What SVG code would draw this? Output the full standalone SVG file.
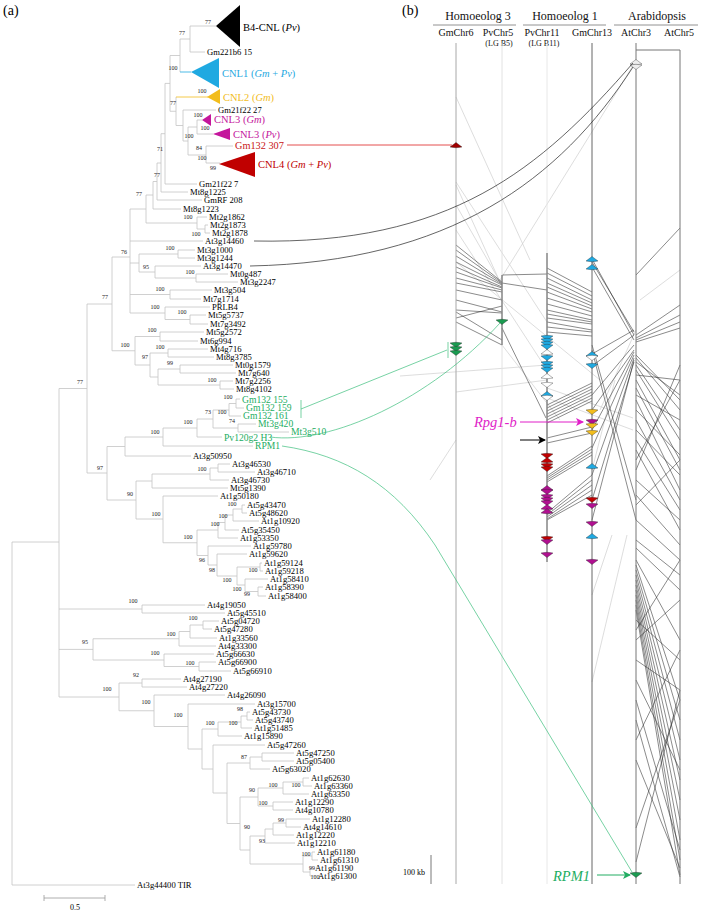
<svg xmlns="http://www.w3.org/2000/svg" xmlns:xlink="http://www.w3.org/1999/xlink" width="702" height="913" viewBox="0 0 702 913">
<style>
text{font-family:"Liberation Serif","Times New Roman",serif;}
.br{fill:none;stroke:#c4c4c4;stroke-width:0.8;}
.lf{font-size:8.6px;fill:#000;}
.bs{font-size:6px;fill:#222;text-anchor:middle;}
.cl{font-size:10.5px;}
.gl{font-size:9.6px;fill:#22ad62;}
.hd{font-size:12px;text-anchor:middle;fill:#111;}
.sh{font-size:10px;text-anchor:middle;fill:#111;}
.lg{font-size:8px;text-anchor:middle;fill:#111;}
.chr{stroke-width:1;fill:none;}
.syn{stroke:#2a2a2a;stroke-width:0.55;fill:none;}
.synl{stroke:#cfcfcf;stroke-width:0.7;fill:none;}
.g{stroke:#222;stroke-width:0.35;}
</style>
<defs>
<path id="gd" d="M-6,-2 Q0,-3.5 6,-2 L0,2.5 Z"/>
<path id="gu" d="M-6,2 Q0,3.5 6,2 L0,-2.5 Z"/>
<marker id="amag" markerWidth="8" markerHeight="8" refX="7" refY="4" orient="auto" markerUnits="userSpaceOnUse"><path d="M0,0 L8,4 L0,8 L2,4 Z" fill="#e01ec8"/></marker>
<marker id="ablk" markerWidth="8" markerHeight="8" refX="7" refY="4" orient="auto" markerUnits="userSpaceOnUse"><path d="M0,0 L8,4 L0,8 L2,4 Z" fill="#000"/></marker>
<marker id="agrn" markerWidth="8" markerHeight="8" refX="7" refY="4" orient="auto" markerUnits="userSpaceOnUse"><path d="M0,0 L8,4 L0,8 L2,4 Z" fill="#22ad62"/></marker>
</defs>
<rect width="702" height="913" fill="#fff"/>

<text x="3" y="15" style="font-size:14px">(a)</text>
<text x="402" y="15" style="font-size:14px">(b)</text>

<g id="tree-branches">
<path class="br" d="M190,26V52 M190,26H216 M190,52H205
M180,39V72 M180,39H190
M197,120V134 M197,120H202 M197,134H213
M206,146V163 M206,146H233 M206,163H220
M188,127V155 M188,127H197 M188,155H206
M183,110V141 M183,110H216 M183,141H188
M176,97V125.5 M176,125.5H183
M170,55.5V111.25 M170,55.5H180 M170,111.25H176
M165,83.4V184 M165,83.4H170 M165,184H197
M161,133.7V192 M161,133.7H165 M161,192H188
M157,163V200 M157,163H161 M157,200H202
M153,181.5V209 M153,181.5H157 M153,209H181
M205,225V233 M205,225H208 M205,233H210
M197,217V229 M197,217H207 M197,229H205
M146,195V223 M146,195H153 M146,223H197
M178,250V258 M178,250H195 M178,258H195
M196,274V282 M196,274H228 M196,282H238
M155,266V278 M155,266H201 M155,278H196
M139,254V272 M139,254H178 M139,272H155
M170,290V299 M170,290H212 M170,299H201
M190,315V324 M190,315H206 M190,324H208
M165,307V319.5 M165,307H210 M165,319.5H190
M130,209V313 M130,209H146 M130,241H203 M130,263H139 M130,294.5H170 M130,313H165
M160,332V341 M160,332H204 M160,341H198
M168,349V357 M168,349H208 M168,357H214
M180,365V373 M180,365H233 M180,373H236
M220,381V389 M220,381H233 M220,389H234
M158,369V385 M158,369H180 M158,385H220
M150,353V377 M150,353H168 M150,377H158
M135,336.5V365 M135,336.5H160 M135,365H150
M112,257V350.75 M112,257H130 M112,350.75H135
M236,399V408 M236,399H240 M236,408H244
M229,403.5V416 M229,403.5H236 M229,416H241
M238,424V432 M238,424H256 M238,432H289
M213,410V428 M213,410H229 M213,428H238
M197,419V437 M197,419H213 M197,437H222
M163,428V446 M163,428H197 M163,446H253
M125,437V456 M125,437H163 M125,456H191
M218,464V472 M218,464H230 M218,472H255
M210,468V480 M210,468H218 M210,480H229
M152,474V488 M152,474H210 M152,488H228
M242,505V513 M242,505H245 M242,513H247
M233,509V521 M233,509H242 M233,521H259
M225,515V530 M225,515H233 M225,530H239
M218,522.5V538 M218,522.5H225 M218,538H238
M260,563V571 M260,563H262 M260,571H263
M258,587V596 M258,587H263 M258,596H266
M245,579V591.5 M245,579H268 M245,591.5H258
M237,567V585 M237,567H260 M237,585H245
M217,554V576 M217,554H247 M217,576H237
M208,546V565 M208,546H251 M208,565H217
M197,530V555.5 M197,530H218 M197,555.5H208
M163,496V542.75 M163,496H218 M163,542.75H197
M136,481V519 M136,481H152 M136,519H163
M107,446.5V500 M107,446.5H125 M107,500H136
M87,304V473 M87,304H112 M87,473H107
M142,605V613 M142,605H205 M142,613H225
M203,621V629 M203,621H219 M203,629H212
M190,625V638 M190,625H203 M190,638H217
M179,631.5V646 M179,631.5H190 M179,646H216
M199,662V671 M199,662H216 M199,671H231
M164,654V666.5 M164,654H214 M164,666.5H199
M93,638.75V660 M93,638.75H179 M93,660H164
M142,679V687 M142,679H181 M142,687H187
M247,712V720 M247,712H250 M247,720H253
M241,716V728 M241,716H247 M241,728H252
M218,722V736 M218,722H241 M218,736H242
M262,753V761 M262,753H294 M262,761H294
M250,757V769 M250,757H262 M250,769H270
M303,778V786 M303,778H309 M303,786H312
M283,782V794 M283,782H303 M283,794H309
M273,802V810 M273,802H293 M273,810H293
M258,788V806 M258,788H283 M258,806H273
M286,819V827 M286,819H310 M286,827H301
M273,823V835 M273,823H286 M273,835H294
M265,829V843 M265,829H273 M265,843H295
M312,852V860 M312,852H315 M312,860H318
M310,868V876 M310,868H313 M310,876H316
M303,856V872 M303,856H312 M303,872H310
M250,836V864 M250,836H265 M250,864H303
M240,797V850 M240,797H258 M240,850H250
M227,763V823.5 M227,763H250 M227,823.5H240
M213,745V793 M213,745H265 M213,793H227
M202,729V769 M202,729H218 M202,769H213
M188,704V749 M188,704H255 M188,749H202
M154,695V726.5 M154,695H225 M154,726.5H188
M119,683V710.75 M119,683H142 M119,710.75H154
M59,388.5V697 M59,388.5H87 M59,609H142 M59,649.4H93 M59,697H119
M12,542V885 M12,542H59 M12,885H135"/>
<path d="M180,72H191" stroke="#1fa9e1" stroke-width="0.8" fill="none"/>
<path d="M176,97H208" stroke="#f2bd1d" stroke-width="0.8" fill="none"/>
</g>

<g id="clades">
<g id="clade-b4"><polygon points="216,26 240,5 240,47" fill="#000"/><text class="cl" x="243" y="31" fill="#000">B4-CNL (<tspan font-style="italic">Pv</tspan>)</text></g>
<g id="clade-cnl1"><polygon points="191,72 219,58 219,88" fill="#1fa9e1"/><text class="cl" x="222" y="77" fill="#1fa9e1">CNL1 (<tspan font-style="italic">Gm</tspan> + <tspan font-style="italic">Pv</tspan>)</text></g>
<g id="clade-cnl2"><polygon points="207,97 220,89 220,104" fill="#f2bd1d"/><text class="cl" x="223" y="101" fill="#f2bd1d">CNL2 (<tspan font-style="italic">Gm</tspan>)</text></g>
<g id="clade-cnl3gm"><polygon points="202,120 211,114 211,126" fill="#c4169c"/><text class="cl" x="214" y="123" fill="#c4169c">CNL3 (<tspan font-style="italic">Gm</tspan>)</text></g>
<g id="clade-cnl3pv"><polygon points="213,134 230,128 230,140" fill="#c4169c"/><text class="cl" x="233" y="138" fill="#c4169c">CNL3 (<tspan font-style="italic">Pv</tspan>)</text></g>
<g id="leaf-gm132-307"><text x="235" y="149" style="font-size:10.3px" fill="#c81414">Gm132 307</text></g>
<g id="clade-cnl4"><polygon points="219,164 255,152 255,177" fill="#c00000"/><text class="cl" x="258" y="168" fill="#c00000">CNL4 (<tspan font-style="italic">Gm</tspan> + <tspan font-style="italic">Pv</tspan>)</text></g>
</g>

<g id="leaf-labels" class="lf">
<text class="lf" x="207" y="55">Gm221b6 15</text>
<text class="lf" x="218" y="113">Gm21f22 27</text>
<text class="lf" x="199" y="187">Gm21f22 7</text>
<text class="lf" x="190" y="195">Mt8g1225</text>
<text class="lf" x="204" y="203">GmRF 208</text>
<text class="lf" x="183" y="212">Mt8g1223</text>
<text class="lf" x="209" y="220">Mt2g1862</text>
<text class="lf" x="210" y="228">Mt2g1873</text>
<text class="lf" x="212" y="236">Mt2g1878</text>
<text class="lf" x="205" y="244">At3g14460</text>
<text class="lf" x="197" y="253">Mt3g1000</text>
<text class="lf" x="197" y="261">Mt3g1244</text>
<text class="lf" x="203" y="269">At3g14470</text>
<text class="lf" x="230" y="277">Mt0g487</text>
<text class="lf" x="240" y="285">Mt3g2247</text>
<text class="lf" x="214" y="293">Mt3g504</text>
<text class="lf" x="203" y="302">Mt7g1714</text>
<text class="lf" x="212" y="310">PRLB4</text>
<text class="lf" x="208" y="318">Mt5g5737</text>
<text class="lf" x="210" y="327">Mt7g3492</text>
<text class="lf" x="206" y="335">Mt5g2572</text>
<text class="lf" x="200" y="344">Mt6g994</text>
<text class="lf" x="210" y="352">Mt4g716</text>
<text class="lf" x="216" y="360">Mt8g3785</text>
<text class="lf" x="235" y="368">Mt0g1579</text>
<text class="lf" x="238" y="376">Mt7g640</text>
<text class="lf" x="235" y="384">Mt7g2256</text>
<text class="lf" x="236" y="392">Mt8g4102</text>
<text class="gl" x="242" y="403">Gm132 155</text>
<text class="gl" x="246" y="411">Gm132 159</text>
<text class="gl" x="243" y="419">Gm132 161</text>
<text class="gl" x="258" y="427">Mt3g420</text>
<text class="gl" x="291" y="435">Mt3g510</text>
<text class="gl" x="224" y="441">Pv120g2 H3</text>
<text class="gl" x="255" y="449">RPM1</text>
<text class="lf" x="193" y="459">At3g50950</text>
<text class="lf" x="232" y="467">At3g46530</text>
<text class="lf" x="257" y="475">At3g46710</text>
<text class="lf" x="231" y="483">At3g46730</text>
<text class="lf" x="230" y="491">Mt5g1390</text>
<text class="lf" x="220" y="499">At1g50180</text>
<text class="lf" x="247" y="508">At5g43470</text>
<text class="lf" x="249" y="516">At5g48620</text>
<text class="lf" x="261" y="524">At1g10920</text>
<text class="lf" x="241" y="533">At5g35450</text>
<text class="lf" x="240" y="541">At1g53350</text>
<text class="lf" x="253" y="549">At1g59780</text>
<text class="lf" x="249" y="557">At1g59620</text>
<text class="lf" x="264" y="566">At1g59124</text>
<text class="lf" x="265" y="574">At1g59218</text>
<text class="lf" x="270" y="582">At1g58410</text>
<text class="lf" x="265" y="590">At1g58390</text>
<text class="lf" x="268" y="599">At1g58400</text>
<text class="lf" x="207" y="608">At4g19050</text>
<text class="lf" x="227" y="616">At5g45510</text>
<text class="lf" x="221" y="624">At5g04720</text>
<text class="lf" x="214" y="632">At5g47280</text>
<text class="lf" x="219" y="641">At1g33560</text>
<text class="lf" x="218" y="649">At4g33300</text>
<text class="lf" x="216" y="657">At5g66630</text>
<text class="lf" x="218" y="665">At5g66900</text>
<text class="lf" x="233" y="674">At5g66910</text>
<text class="lf" x="183" y="682">At4g27190</text>
<text class="lf" x="189" y="690">At4g27220</text>
<text class="lf" x="227" y="698">At4g26090</text>
<text class="lf" x="257" y="707">At3g15700</text>
<text class="lf" x="252" y="715">At5g43730</text>
<text class="lf" x="255" y="723">At5g43740</text>
<text class="lf" x="254" y="731">At1g51485</text>
<text class="lf" x="244" y="739">At1g15890</text>
<text class="lf" x="267" y="748">At5g47260</text>
<text class="lf" x="296" y="756">At5g47250</text>
<text class="lf" x="296" y="764">At5g05400</text>
<text class="lf" x="272" y="772">At5g63020</text>
<text class="lf" x="311" y="781">At1g62630</text>
<text class="lf" x="314" y="789">At1g63360</text>
<text class="lf" x="311" y="797">At1g63350</text>
<text class="lf" x="295" y="805">At1g12290</text>
<text class="lf" x="295" y="813">At4g10780</text>
<text class="lf" x="312" y="822">At1g12280</text>
<text class="lf" x="303" y="830">At4g14610</text>
<text class="lf" x="296" y="838">At1g12220</text>
<text class="lf" x="297" y="846">At1g12210</text>
<text class="lf" x="317" y="855">At1g61180</text>
<text class="lf" x="320" y="863">At1g61310</text>
<text class="lf" x="315" y="871">At1g61190</text>
<text class="lf" x="318" y="879">At1g61300</text>
<text class="lf" x="137" y="888">At3g44400 TIR</text>
</g>

<g id="bootstrap">
<text class="bs" x="208" y="24">77</text><text class="bs" x="182" y="35">77</text><text class="bs" x="173" y="70">100</text>
<text class="bs" x="202" y="93">100</text><text class="bs" x="173" y="105">77</text><text class="bs" x="198" y="117">100</text>
<text class="bs" x="205" y="130">100</text><text class="bs" x="189" y="138">100</text><text class="bs" x="199" y="150">84</text>
<text class="bs" x="202" y="160">100</text><text class="bs" x="160" y="151">71</text><text class="bs" x="213" y="170">99</text>
<text class="bs" x="157" y="177">77</text><text class="bs" x="139" y="196">77</text><text class="bs" x="188" y="219">100</text>
<text class="bs" x="196" y="236">100</text><text class="bs" x="124" y="254">76</text><text class="bs" x="170" y="250">100</text>
<text class="bs" x="146" y="269">95</text><text class="bs" x="190" y="274">100</text><text class="bs" x="160" y="291">100</text>
<text class="bs" x="105" y="299">77</text><text class="bs" x="155" y="309">100</text><text class="bs" x="182" y="314">100</text>
<text class="bs" x="152" y="332">100</text><text class="bs" x="125" y="347">100</text><text class="bs" x="160" y="349">100</text>
<text class="bs" x="145" y="359">97</text><text class="bs" x="170" y="365">99</text><text class="bs" x="212" y="382">100</text>
<text class="bs" x="80" y="384">77</text><text class="bs" x="228" y="399">100</text><text class="bs" x="208" y="414">73</text>
<text class="bs" x="222" y="414">100</text><text class="bs" x="232" y="423">74</text><text class="bs" x="188" y="424">100</text>
<text class="bs" x="155" y="434">100</text><text class="bs" x="100" y="470">97</text><text class="bs" x="202" y="471">100</text>
<text class="bs" x="130" y="496">90</text><text class="bs" x="232" y="506">100</text><text class="bs" x="223" y="518">100</text>
<text class="bs" x="215" y="526">100</text><text class="bs" x="156" y="516">100</text><text class="bs" x="188" y="539">100</text>
<text class="bs" x="202" y="562">96</text><text class="bs" x="212" y="572">98</text><text class="bs" x="253" y="572">100</text>
<text class="bs" x="227" y="582">100</text><text class="bs" x="237" y="591">100</text><text class="bs" x="247" y="596">99</text>
<text class="bs" x="133" y="603">100</text><text class="bs" x="193" y="620">100</text><text class="bs" x="171" y="636">100</text>
<text class="bs" x="85" y="644">95</text><text class="bs" x="155" y="655">100</text><text class="bs" x="190" y="665">100</text>
<text class="bs" x="136" y="677">92</text><text class="bs" x="107" y="691">100</text><text class="bs" x="146" y="704">100</text>
<text class="bs" x="178" y="717">100</text><text class="bs" x="240" y="711">98</text><text class="bs" x="210" y="725">100</text>
<text class="bs" x="233" y="725">100</text><text class="bs" x="244" y="759">87</text><text class="bs" x="273" y="787">100</text>
<text class="bs" x="296" y="787">100</text><text class="bs" x="252" y="792">90</text><text class="bs" x="263" y="805">100</text>
<text class="bs" x="281" y="822">99</text><text class="bs" x="247" y="829">90</text><text class="bs" x="262" y="843">93</text>
<text class="bs" x="306" y="856">100</text><text class="bs" x="312" y="870">99</text><text class="bs" x="315" y="879">100</text>
</g>

<g id="scale-bar">
<path d="M44,898H105 M44,895V901 M105,895V901" stroke="#999" stroke-width="0.8" fill="none"/>
<text x="75" y="910" style="font-size:8px" text-anchor="middle">0.5</text>
</g>

<g id="headers">
<text class="hd" x="478" y="20">Homoeolog 3</text>
<text class="hd" x="565" y="20">Homoeolog 1</text>
<text class="hd" x="657" y="20">Arabidopsis</text>
<path d="M433,25H516 M523,25H606 M614,25H698" stroke="#777" stroke-width="0.8"/>
<text class="sh" x="456" y="36">GmChr6</text>
<text class="sh" x="498" y="36">PvChr5</text>
<text class="lg" x="499" y="46">(LG B5)</text>
<text class="sh" x="542" y="36">PvChr11</text>
<text class="lg" x="544" y="46">(LG B11)</text>
<text class="sh" x="592" y="36">GmChr13</text>
<text class="sh" x="636" y="36">AtChr3</text>
<text class="sh" x="679" y="36">AtChr5</text>
</g>

<g id="synteny">
<path class="synl" d="M456,97L530,260 M634,64L500,280 M456,185L500,282 M456,205L502,285 M456,182L547,322 M456,230L547,370 M400,376L547,365 M456,392L547,380 M547,388L633,418 M547,398L633,430 M592,682L627,535 M592,595L612,535 M456,262L600,380 M502,345L560,420 M430,480L456,440 M615,380L592,470 M640,300L680,270 M600,410L636,330"/>
<path class="syn" d="M456,245L502,282 M456,250L502,283 M456,256L502,284 M456,262L502,285 M456,267L502,287 M456,272L502,288 M456,278L502,290 M456,283L502,292 M456,290L502,300 M456,300L502,312 M456,310L502,313 M456,318L502,306 M456,312L502,340 M456,322L502,345
M502,275L547,274 M502,283L547,290 M502,328L546,418
M547,268L592,292 M547,273L592,296 M547,278L592,300 M547,283L592,303 M547,287L592,306 M547,292L592,309 M547,298L592,312 M547,304L592,316 M547,310L592,320 M547,314L592,322 M547,318L592,324 M547,322L592,330 M547,327L592,332 M547,332L592,336
M547,405L592,383 M547,408L592,386 M547,411L592,389 M547,414L592,392 M547,417L592,395 M547,420L592,398 M547,423L592,401 M547,438L592,427 M547,443L592,433
M547,476L592,446 M547,478L592,449 M547,480L592,452 M547,482L592,455 M547,513L592,475 M547,515L592,480 M547,517L592,485 M547,519L592,490 M547,520L592,495
M592,259L634,335 M592,262L634,332 M592,267L634,340 M592,354L634,330 M592,366L634,335 M592,395L634,345 M592,410L634,350 M592,430L634,352 M592,448L634,355 M592,475L634,358 M592,500L634,362 M592,520L634,360 M592,345L636,500 M592,350L636,520
M636,275L680,228 M636,335L680,305 M636,338L680,315 M636,340L680,322 M636,342L680,328
M636,355L680,400 M636,358L680,410 M636,362L680,395 M636,365L680,430 M636,370L680,440 M636,375L680,380 M636,380L680,460 M636,388L680,470 M636,395L680,420 M636,400L680,490 M636,410L680,455 M636,420L680,500 M636,430L680,475 M636,440L680,510 M636,450L680,530 M636,460L680,380 M636,470L680,365 M636,480L680,520 M636,495L680,545 M636,505L680,460 M636,520L680,560 M636,540L680,575 M636,548L680,590
M636,560L680,640 M636,565L680,700 M636,570L680,720 M636,575L680,740 M636,580L680,760 M636,585L680,780 M636,590L680,800 M636,595L680,820 M636,600L680,840 M636,605L680,860 M636,610L680,875 M636,620L680,660 M636,630L680,560 M636,640L680,600 M636,660L680,690 M636,680L680,770 M636,700L680,850 M636,720L680,877 M636,740L680,650 M636,828L680,700 M636,862L680,690 M636,760L680,868"/>
</g>

<g id="chromosomes">
<path class="chr" d="M456,43V884" stroke="#a8a8a8"/>
<path class="chr" d="M502,43V884" stroke="#e2e2e2"/>
<path class="chr" d="M502,275V345" stroke="#555"/>
<path class="chr" d="M547,43V884" stroke="#e8e8e8"/>
<path class="chr" d="M547,253V562" stroke="#555"/>
<path class="chr" d="M592,43V884" stroke="#666"/>
<path class="chr" d="M636,43V884" stroke="#777"/>
<path class="chr" d="M636,50H680V884" stroke="#777"/>
<path d="M431,855V884" stroke="#555" stroke-width="0.8"/>
<text x="403" y="875" style="font-size:8px">100 kb</text>
</g>

<g id="genes">
<use href="#gu" x="456" y="145" fill="#a00000" class="g"/>
<use href="#gd" x="456" y="345" fill="#1a9a50" class="g"/>
<use href="#gd" x="456" y="349" fill="#1a9a50" class="g"/>
<use href="#gd" x="456" y="353" fill="#1a9a50" class="g"/>
<use href="#gd" x="502" y="322" fill="#1a9a50" class="g"/>
<use href="#gd" x="547" y="338" fill="#1fa9e1" class="g"/>
<use href="#gd" x="547" y="341" fill="#1fa9e1" class="g"/>
<use href="#gd" x="547" y="344" fill="#1fa9e1" class="g"/>
<use href="#gd" x="547" y="347" fill="#1fa9e1" class="g"/>
<use href="#gu" x="547" y="352" fill="#fff" class="g"/>
<use href="#gd" x="547" y="358" fill="#1fa9e1" class="g"/>
<use href="#gd" x="547" y="364" fill="#1fa9e1" class="g"/>
<use href="#gd" x="547" y="367" fill="#1fa9e1" class="g"/>
<use href="#gd" x="547" y="370" fill="#1fa9e1" class="g"/>
<use href="#gu" x="547" y="376" fill="#fff" class="g"/>
<use href="#gd" x="547" y="385" fill="#fff" class="g"/>
<use href="#gu" x="547" y="394" fill="#1fa9e1" class="g"/>
<use href="#gd" x="547" y="398" fill="#fff" class="g"/>
<use href="#gd" x="547" y="456" fill="#c00000" class="g"/>
<use href="#gu" x="547" y="460" fill="#c00000" class="g"/>
<use href="#gd" x="547" y="466" fill="#c00000" class="g"/>
<use href="#gd" x="547" y="469" fill="#c00000" class="g"/>
<use href="#gu" x="547" y="488" fill="#b01090" class="g"/>
<use href="#gd" x="547" y="492" fill="#b01090" class="g"/>
<use href="#gd" x="547" y="497" fill="#b01090" class="g"/>
<use href="#gd" x="547" y="500" fill="#b01090" class="g"/>
<use href="#gd" x="547" y="503" fill="#b01090" class="g"/>
<use href="#gu" x="547" y="507" fill="#b01090" class="g"/>
<use href="#gu" x="547" y="511" fill="#b01090" class="g"/>
<use href="#gd" x="547" y="539" fill="#c00000" class="g"/>
<use href="#gd" x="547" y="542" fill="#b01090" class="g"/>
<use href="#gd" x="547" y="555" fill="#b01090" class="g"/>
<use href="#gu" x="592" y="259" fill="#1fa9e1" class="g"/>
<use href="#gu" x="592" y="267" fill="#1fa9e1" class="g"/>
<use href="#gu" x="592" y="354" fill="#1fa9e1" class="g"/>
<use href="#gd" x="592" y="358" fill="#fff" class="g"/>
<use href="#gd" x="592" y="366" fill="#1fa9e1" class="g"/>
<use href="#gd" x="592" y="412" fill="#f2bd1d" class="g"/>
<use href="#gd" x="592" y="422" fill="#b01090" class="g"/>
<use href="#gd" x="592" y="426" fill="#f2bd1d" class="g"/>
<use href="#gd" x="592" y="433" fill="#f2bd1d" class="g"/>
<use href="#gu" x="592" y="466" fill="#1fa9e1" class="g"/>
<use href="#gd" x="592" y="500" fill="#c00000" class="g"/>
<use href="#gd" x="592" y="506" fill="#b01090" class="g"/>
<use href="#gd" x="592" y="524" fill="#b01090" class="g"/>
<use href="#gu" x="592" y="536" fill="#1fa9e1" class="g"/>
<use href="#gd" x="592" y="562" fill="#b01090" class="g"/>
<use href="#gu" x="636" y="62" fill="#eee" class="g"/>
<use href="#gd" x="636" y="67" fill="#eee" class="g"/>
<use href="#gd" x="636" y="875" fill="#1a9a50" class="g"/>
</g>

<g id="connectors">
<path d="M287,145H452" stroke="#d22" stroke-width="0.8" fill="none"/>
<path d="M254,241C450,245 540,170 633,63" stroke="#222" stroke-width="0.7" fill="none"/>
<path d="M250,266C450,262 560,180 633,67" stroke="#222" stroke-width="0.7" fill="none"/>
<path d="M301,400V418 M301,409L447,350 M448,342V358" stroke="#3cbf7c" stroke-width="0.7" fill="none"/>
<path d="M270,437C330,445 430,400 500,323" stroke="#3cbf7c" stroke-width="0.7" fill="none"/>
<path d="M282,446C345,455 395,485 435,545L632,872" stroke="#3cbf7c" stroke-width="0.7" fill="none"/>
<text x="474" y="427" style="font-size:14.5px;font-style:italic" fill="#e01ec8">Rpg1-b</text>
<path d="M520,422H583" stroke="#e01ec8" stroke-width="1" marker-end="url(#amag)"/>
<path d="M520,440H545" stroke="#000" stroke-width="1" marker-end="url(#ablk)"/>
<text x="553" y="881" style="font-size:14.5px;font-style:italic" fill="#22ad62">RPM1</text>
<path d="M597,875H630" stroke="#22ad62" stroke-width="1" marker-end="url(#agrn)"/>
</g>
</svg>
